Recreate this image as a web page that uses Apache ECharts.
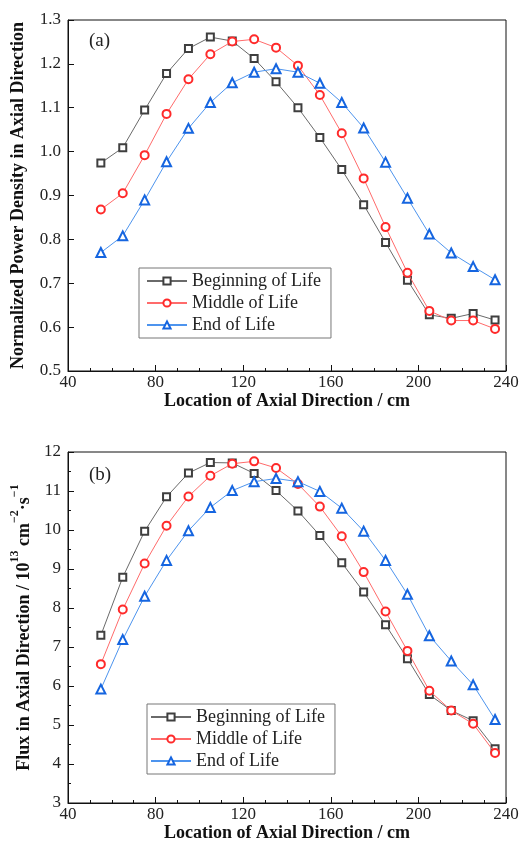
<!DOCTYPE html>
<html>
<head>
<meta charset="utf-8">
<script src="https://cdn.jsdelivr.net/npm/echarts@6/dist/echarts.min.js"></script>
<style>
  html, body { margin: 0; padding: 0; background: #fff; }
  #chart { width: 525px; height: 844px; }
</style>
</head>
<body>
<div id="chart"></div>
<script>
// axial positions (cm)
const positions = [55, 65, 75, 85, 95, 105, 115, 125, 135, 145, 155, 165, 175, 185, 195, 205, 215, 225, 235];
const seriesNames = ['Beginning of Life', 'Middle of Life', 'End of Life'];

// (a) normalized power density
const powerBOL = [0.974, 1.009, 1.095, 1.178, 1.235, 1.261, 1.252, 1.212, 1.159, 1.100, 1.032, 0.959, 0.879, 0.793, 0.707, 0.628, 0.620, 0.631, 0.616];
const powerMOL = [0.868, 0.905, 0.992, 1.086, 1.165, 1.222, 1.251, 1.256, 1.237, 1.196, 1.129, 1.042, 0.939, 0.828, 0.724, 0.637, 0.615, 0.615, 0.596];
const powerEOL = [0.770, 0.808, 0.890, 0.977, 1.053, 1.112, 1.157, 1.181, 1.189, 1.181, 1.156, 1.112, 1.054, 0.976, 0.894, 0.812, 0.769, 0.738, 0.708];

// (b) flux, 10^13 cm^-2 s^-1
const fluxBOL = [7.30, 8.79, 9.97, 10.85, 11.46, 11.73, 11.72, 11.45, 11.01, 10.49, 9.86, 9.16, 8.41, 7.57, 6.70, 5.78, 5.37, 5.11, 4.39];
const fluxMOL = [6.56, 7.96, 9.14, 10.11, 10.86, 11.39, 11.70, 11.76, 11.59, 11.18, 10.60, 9.84, 8.92, 7.91, 6.90, 5.88, 5.37, 5.03, 4.28];
const fluxEOL = [5.92, 7.19, 8.30, 9.22, 9.98, 10.58, 11.01, 11.24, 11.32, 11.24, 10.99, 10.56, 9.97, 9.22, 8.35, 7.29, 6.64, 6.03, 5.14];

const font = '"Liberation Serif", "Times New Roman", serif';
const styles = [
    { symbol: 'rect', size: 7, line: '#6a6a6a', mark: '#3f3f3f' },
    { symbol: 'circle', size: 8, line: '#ff6b6b', mark: '#ff2a2a' },
    { symbol: 'triangle', size: 9, line: '#4d94ee', mark: '#1565e0' },
];

const pair = (ys) => ys.map((y, i) => [positions[i], y]);

function makeSeries(idx, data) {
    return data.map((ys, k) => ({
        name: seriesNames[k],
        type: 'line',
        xAxisIndex: idx,
        yAxisIndex: idx,
        data: pair(ys),
        symbol: styles[k].symbol,
        symbolSize: styles[k].size,
        showAllSymbol: true,
        lineStyle: { color: styles[k].line, width: 1 },
        itemStyle: { color: '#fff', borderColor: styles[k].mark, borderWidth: 2 },
        z: 3 + k,
    }));
}

function xAxisCfg(idx) {
    return {
        type: 'value',
        gridIndex: idx,
        min: 40,
        max: 240,
        interval: 40,
        name: 'Location of Axial Direction / cm',
        nameLocation: 'middle',
        nameGap: 16,
        nameTextStyle: { fontFamily: font, fontSize: 18, fontWeight: 'bold', color: '#111' },
        axisLine: { lineStyle: { color: '#111', width: 1 } },
        axisTick: { inside: true, length: 6, lineStyle: { color: '#111' } },
        minorTick: { show: true, splitNumber: 4, length: 3, lineStyle: { color: '#111' } },
        axisLabel: { fontFamily: font, fontSize: 17, color: '#222', margin: 3 },
        splitLine: { show: false },
    };
}

const chart = echarts.init(document.getElementById('chart'), null, { renderer: 'canvas' });

chart.setOption({
    animation: false,
    backgroundColor: '#fff',
    textStyle: { fontFamily: font },
    title: [
        { text: '(a)', left: 84, top: 27, textStyle: { fontFamily: font, fontSize: 19, fontWeight: 'normal', color: '#222' } },
        { text: '(b)', left: 84, top: 461, textStyle: { fontFamily: font, fontSize: 19, fontWeight: 'normal', color: '#222' } },
    ],
    grid: [
        { left: 68, top: 20, width: 438, height: 351, show: true, borderColor: '#111', borderWidth: 1, backgroundColor: 'transparent' },
        { left: 68, top: 452, width: 438, height: 351, show: true, borderColor: '#111', borderWidth: 1, backgroundColor: 'transparent' },
    ],
    legend: [
        {
            data: seriesNames,
            orient: 'vertical',
            left: 139,
            top: 268,
            width: 192,
            padding: [4, 10, 4, 7],
            itemGap: 4,
            itemWidth: 40,
            itemHeight: 9,
            borderColor: '#777',
            borderWidth: 1,
            textStyle: { fontFamily: font, fontSize: 18, color: '#222' },
        },
        {
            data: seriesNames,
            orient: 'vertical',
            left: 147,
            top: 704,
            padding: [4, 10, 4, 3],
            itemGap: 4,
            itemWidth: 40,
            itemHeight: 9,
            borderColor: '#777',
            borderWidth: 1,
            textStyle: { fontFamily: font, fontSize: 18, color: '#222' },
        },
    ],
    xAxis: [xAxisCfg(0), xAxisCfg(1)],
    yAxis: [
        {
            type: 'value',
            gridIndex: 0,
            min: 0.5,
            max: 1.3,
            interval: 0.1,
            name: 'Normalized Power Density in Axial Direction',
            nameLocation: 'middle',
            nameGap: 41,
            nameTextStyle: { fontFamily: font, fontSize: 18, fontWeight: 'bold', color: '#111' },
            axisLine: { show: true, lineStyle: { color: '#111', width: 1 } },
            axisTick: { inside: true, length: 6, lineStyle: { color: '#111' } },
            axisLabel: { fontFamily: font, fontSize: 17, color: '#222', margin: 7, formatter: (v) => v.toFixed(1) },
            splitLine: { show: false },
        },
        {
            type: 'value',
            gridIndex: 1,
            min: 3,
            max: 12,
            interval: 1,
            name: '{n|Flux in Axial Direction / 10}{s|13}{n| cm}{s|\u22122}{n|\u00b7s}{s|\u22121}',
            nameLocation: 'middle',
            nameGap: 31,
            nameTextStyle: {
                fontFamily: font,
                fontSize: 18,
                fontWeight: 'bold',
                color: '#111',
                rich: {
                    n: { fontFamily: font, fontSize: 18, fontWeight: 'bold', color: '#111', lineHeight: 24, verticalAlign: 'bottom' },
                    s: { fontFamily: font, fontSize: 12, fontWeight: 'bold', color: '#111', lineHeight: 24, verticalAlign: 'top' },
                },
            },
            axisLine: { show: true, lineStyle: { color: '#111', width: 1 } },
            axisTick: { inside: true, length: 6, lineStyle: { color: '#111' } },
            minorTick: { show: true, splitNumber: 2, length: 3, lineStyle: { color: '#111' } },
            axisLabel: { fontFamily: font, fontSize: 17, color: '#222', margin: 7 },
            splitLine: { show: false },
        },
    ],
    series: [
        ...makeSeries(0, [powerBOL, powerMOL, powerEOL]),
        ...makeSeries(1, [fluxBOL, fluxMOL, fluxEOL]),
    ],
});
</script>
</body>
</html>
